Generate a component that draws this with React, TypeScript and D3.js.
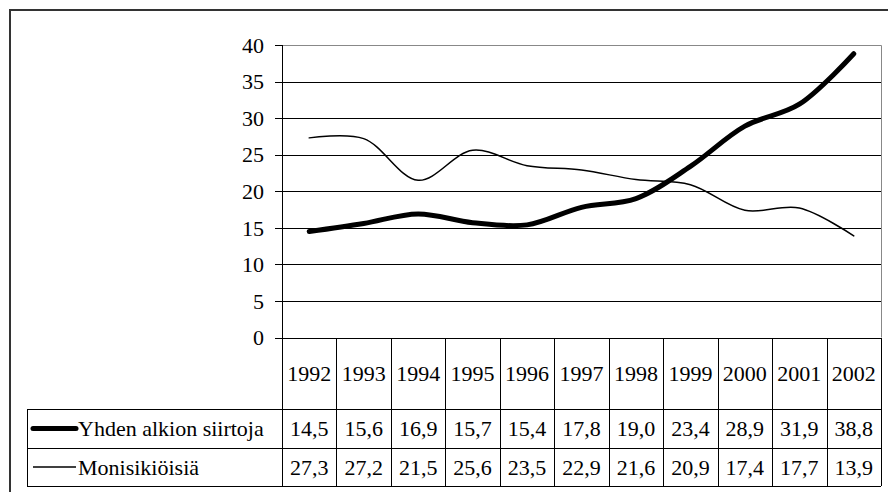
import React from 'react';
import * as d3 from 'd3';

const years = ['1992', '1993', '1994', '1995', '1996', '1997', '1998', '1999', '2000', '2001', '2002'];
const yhdenAlkion = [14.5, 15.6, 16.9, 15.7, 15.4, 17.8, 19.0, 23.4, 28.9, 31.9, 38.8];
const monisikioisia = [27.3, 27.2, 21.5, 25.6, 23.5, 22.9, 21.6, 20.9, 17.4, 17.7, 13.9];
const yTicks = [0, 5, 10, 15, 20, 25, 30, 35, 40];
const seriesNames = ['Yhden alkion siirtoja', 'Monisikiöisiä'];

const W = 888;
const H = 492;

const fmt = (v: number) => v.toFixed(1).replace('.', ',');

const left = 282, right = 881, top = 45, bottom = 337.5;
const rowYear = 409, row1 = 448, row2 = 486, legendLeft = 27;

function Label(props: { x: number; y: number; anchor?: string; children: React.ReactNode }) {
    return (
        <text x={props.x} y={props.y} dy="0.35em" textAnchor={props.anchor || 'start'}
            fontFamily="Liberation Serif" fontSize={22} fill="#000">
            {props.children}
        </text>
    );
}

export default function App() {
    const x = d3.scaleBand().domain(years).range([left, right]);
    const y = d3.scaleLinear().domain([0, 40]).range([bottom, top]);
    const cx = (j: number) => (x(years[j]) as number) + x.bandwidth() / 2;
    const py = (v: number) => Math.round(y(v)) + 0.5;

    const line = d3.line<number>()
        .x((d, j) => cx(j))
        .y(d => y(d))
        .curve(d3.curveCatmullRom.alpha(0.5));

    const series = [yhdenAlkion, monisikioisia];
    const widths = [5, 1.5];
    const rows = [[rowYear, row1], [row1, row2]];

    return (
        <svg width={W} height={H} style={{ position: 'absolute', left: 0, top: 0 }}>
            <rect x={10} y={10} width={W} height={H} fill="white" stroke="#333" strokeWidth={2} />
            <path d={`M${left},${top + 0.5}H${right + 0.5}V${bottom}`} fill="none" stroke="#888" />

            {yTicks.filter(t => t > 0 && t < 40).map(t => (
                <line key={'g' + t} x1={left} x2={right} y1={py(t)} y2={py(t)} stroke="#000" />
            ))}

            <line x1={left + 0.5} x2={left + 0.5} y1={top} y2={row2} stroke="#000" />
            {yTicks.map(t => (
                <line key={'t' + t} x1={left - 7} x2={left} y1={py(t)} y2={py(t)} stroke="#000" />
            ))}
            {yTicks.map(t => (
                <Label key={'l' + t} x={264} y={y(t)} anchor="end">{String(t)}</Label>
            ))}

            <line x1={left} x2={right} y1={py(0)} y2={py(0)} stroke="#000" />
            {[rowYear, row1, row2].map(r => (
                <line key={'r' + r} x1={legendLeft} x2={right} y1={r + 0.5} y2={r + 0.5} stroke="#000" />
            ))}
            <line x1={legendLeft + 0.5} x2={legendLeft + 0.5} y1={rowYear} y2={row2} stroke="#000" />
            {years.map(yr => {
                const xx = Math.round((x(yr) as number) + x.bandwidth()) + 0.5;
                return <line key={'c' + yr} x1={xx} x2={xx} y1={Math.round(bottom)} y2={row2} stroke="#000" />;
            })}
            {years.map((yr, j) => (
                <Label key={'y' + yr} x={cx(j)} y={(bottom + rowYear) / 2} anchor="middle">{yr}</Label>
            ))}

            {series.map((vals, i) => {
                const cy = (rows[i][0] + rows[i][1]) / 2;
                return (
                    <g key={'s' + i}>
                        {vals.map((v, j) => (
                            <Label key={j} x={cx(j)} y={cy} anchor="middle">{fmt(v)}</Label>
                        ))}
                        <line x1={33} x2={76} y1={cy} y2={cy} stroke="#000"
                            strokeWidth={i === 0 ? 5 : 1.3} strokeLinecap={i === 0 ? 'round' : 'butt'} />
                        <Label x={78} y={cy}>{seriesNames[i]}</Label>
                    </g>
                );
            })}

            {series.map((vals, i) => (
                <path key={'p' + i} d={line(vals) || ''} fill="none" stroke="#000"
                    strokeWidth={widths[i]} strokeLinecap="round" strokeLinejoin="round" />
            ))}
        </svg>
    );
}
